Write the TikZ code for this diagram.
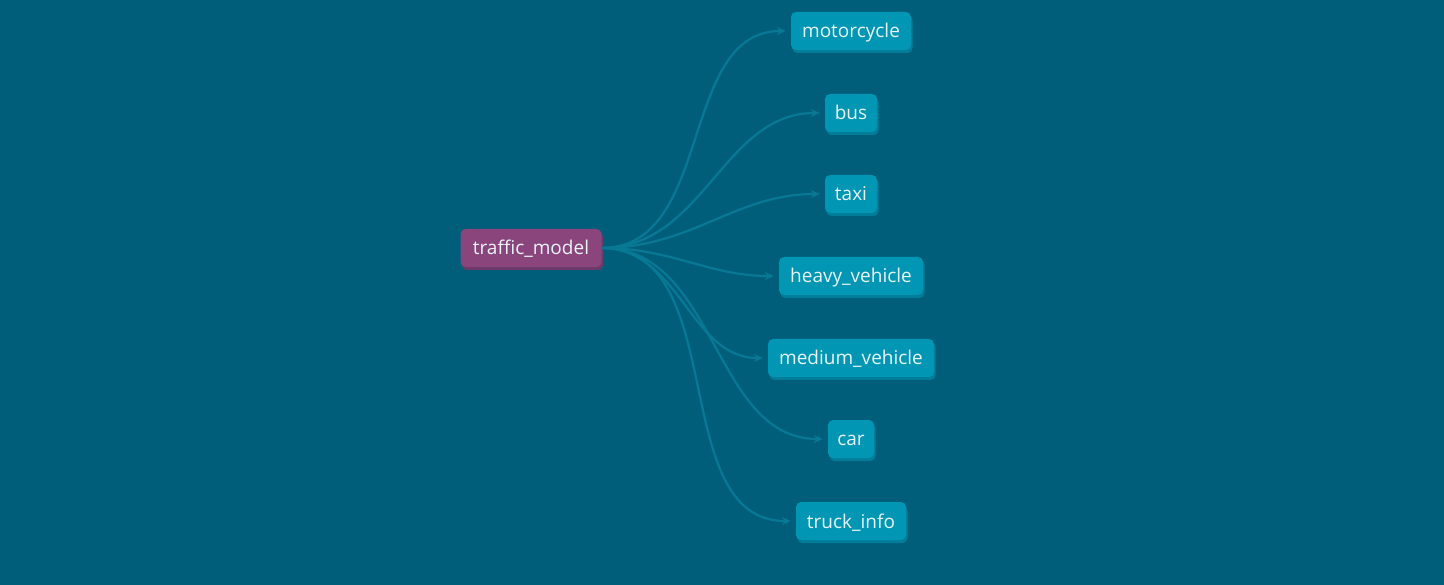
\documentclass[tikz,border=0pt]{standalone}
\usepackage{fontspec}
\setmainfont{Open Sans}
\usetikzlibrary{arrows.meta,shadows}
\definecolor{bgcol}{HTML}{005E7B}
\definecolor{nodecol}{HTML}{0096B4}
\definecolor{nodeshade}{HTML}{007D99}
\definecolor{modelcol}{HTML}{8A457C}
\definecolor{modelshade}{HTML}{6D3A69}
\definecolor{edgecol}{HTML}{087994}
\definecolor{textcol}{HTML}{E8F4F7}

\tikzstyle{table}=[rounded corners=5pt,fill=nodecol,text=textcol,minimum height=38pt,inner sep=0pt,
  text height=14pt,text depth=0pt,font=\fontsize{19}{21}\selectfont,
  drop shadow={shadow xshift=1.5pt,shadow yshift=-3pt,fill=nodeshade,opacity=1}]
\tikzstyle{model}=[table,fill=modelcol,
  drop shadow={shadow xshift=1.5pt,shadow yshift=-3pt,fill=modelshade,opacity=1}]
\tikzstyle{dep edge}=[draw,line width=2.2pt,edgecol,-{Stealth[length=9pt,width=8pt]},shorten >=5pt]

\begin{document}
\begin{tikzpicture}[x=1pt,y=-1pt]
	\fill[bgcol] (0,0) rectangle (1444,585);
	\useasboundingbox (0,0) rectangle (1444,585);
			\node[model,minimum width=141pt] (traffic) at (531,248) {traffic\_model};
			\node[table,minimum width=120pt] (motorcycle) at (851,31) {motorcycle};
			\node[table,minimum width=52pt] (bus) at (851,113) {bus};
			\node[table,minimum width=52pt] (taxi) at (851,194) {taxi};
			\node[table,minimum width=144pt] (heavy) at (851,276) {heavy\_vehicle};
			\node[table,minimum width=166pt] (medium) at (851,358) {medium\_vehicle};
			\node[table,minimum width=46pt] (car) at (851,439) {car};
			\node[table,minimum width=110pt] (truck) at (851,521) {truck\_info};
	   		 % Connect the model to its sources
	   		 \foreach \dest in {motorcycle, bus, taxi, heavy, medium, car, truck}
			 \path[dep edge] (traffic.east) to[out=0,in=180] (\dest.west);
		\end{tikzpicture}
\end{document}
